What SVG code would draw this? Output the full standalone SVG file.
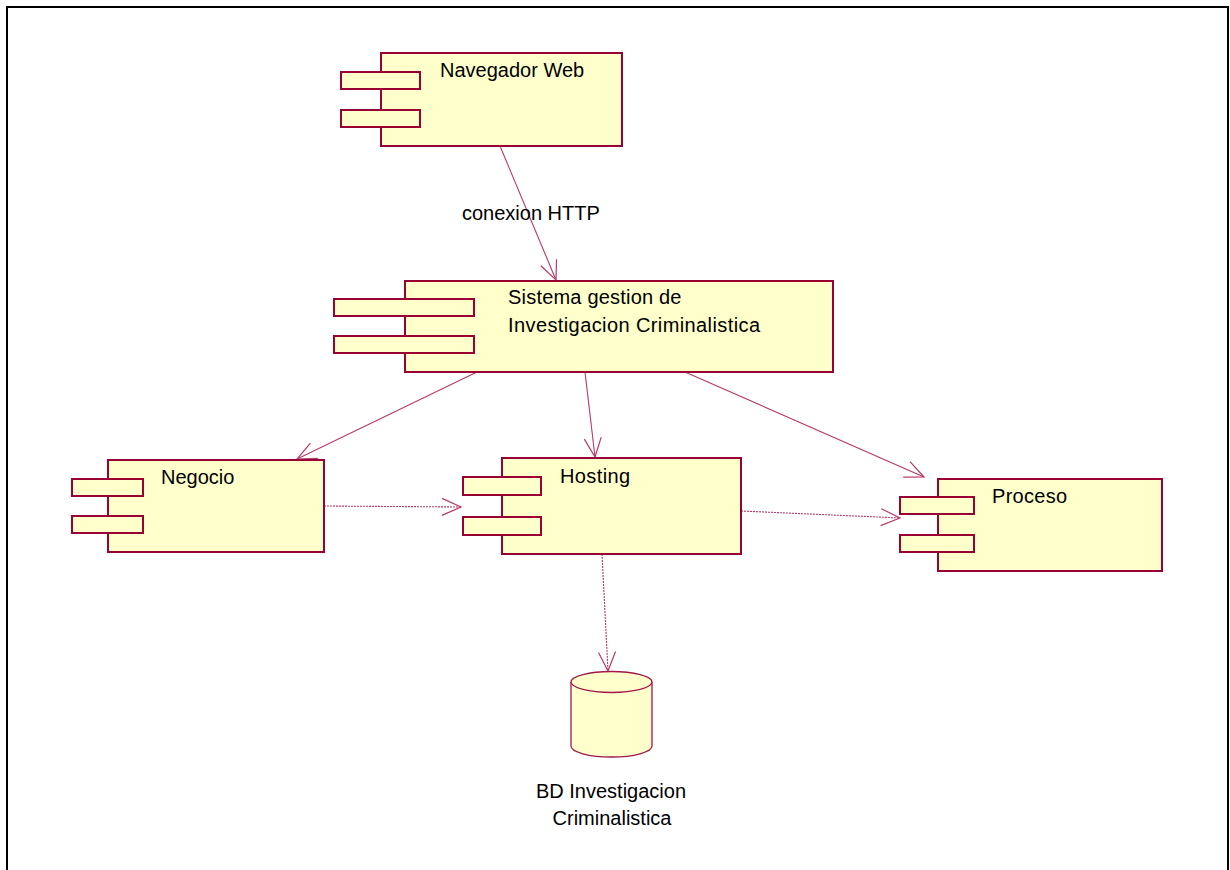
<svg xmlns="http://www.w3.org/2000/svg" width="1230" height="870" viewBox="0 0 1230 870">
<defs>
<style>
.box{fill:#ffffcc;stroke:#990033;stroke-width:2}
.db{fill:#ffffcc;stroke:#a01848;stroke-width:1.3}
.lbl{font-family:"Liberation Sans",Arial,sans-serif;font-size:20px;fill:#000}
.con{fill:none;stroke:#b8386a;stroke-width:1.1}
.dot{stroke-dasharray:2 1}
</style>
<marker id="arr" markerUnits="userSpaceOnUse" markerWidth="24" markerHeight="20" viewBox="-20 -10 24 20" refX="0" refY="0" orient="auto">
<path d="M-19,-8.5 L0,0 L-19,8.5" fill="none" stroke="#b8386a" stroke-width="1.2"/>
</marker>
</defs>
<rect x="0" y="0" width="1230" height="870" fill="#fff"/>
<rect x="7" y="7" width="1221" height="900" fill="none" stroke="#000" stroke-width="2"/>

<g id="connectors">
<line class="con" x1="500" y1="146" x2="556" y2="280" marker-end="url(#arr)"/>
<line class="con" x1="477" y1="372" x2="297" y2="459" marker-end="url(#arr)"/>
<line class="con" x1="585" y1="372" x2="595" y2="457" marker-end="url(#arr)"/>
<line class="con" x1="685" y1="372" x2="924" y2="477" marker-end="url(#arr)"/>
<line class="con dot" x1="324" y1="506" x2="461" y2="507" marker-end="url(#arr)"/>
<line class="con dot" x1="741" y1="511" x2="900" y2="518" marker-end="url(#arr)"/>
<line class="con dot" x1="602" y1="554" x2="608" y2="671" marker-end="url(#arr)"/>
<text class="lbl" x="462" y="220">conexion HTTP</text>
</g>

<g id="navegador">
<rect class="box" x="381" y="53" width="241" height="93"/>
<rect class="box" x="341" y="72" width="79" height="17"/>
<rect class="box" x="341" y="110" width="79" height="17"/>
<text class="lbl" x="440" y="77">Navegador Web</text>
</g>

<g id="sistema">
<rect class="box" x="405" y="281" width="428" height="91"/>
<rect class="box" x="334" y="299" width="140" height="17"/>
<rect class="box" x="334" y="336" width="140" height="17"/>
<text class="lbl" x="508" y="304" letter-spacing="0.2">Sistema gestion de</text>
<text class="lbl" x="508" y="332" letter-spacing="0.4">Investigacion Criminalistica</text>
</g>

<g id="negocio">
<rect class="box" x="108" y="460" width="216" height="92"/>
<rect class="box" x="72" y="479" width="71" height="17"/>
<rect class="box" x="72" y="516" width="71" height="17"/>
<text class="lbl" x="161" y="484">Negocio</text>
</g>

<g id="hosting">
<rect class="box" x="502" y="458" width="239" height="96"/>
<rect class="box" x="463" y="477" width="78" height="18"/>
<rect class="box" x="463" y="517" width="78" height="18"/>
<text class="lbl" x="560" y="483" letter-spacing="0.4">Hosting</text>
</g>

<g id="proceso">
<rect class="box" x="938" y="479" width="224" height="92"/>
<rect class="box" x="900" y="497" width="74" height="17"/>
<rect class="box" x="900" y="535" width="74" height="17"/>
<text class="lbl" x="992" y="503" letter-spacing="0.3">Proceso</text>
</g>

<g id="bd">
<path class="db" d="M571,682 L571,746 A40.5,11 0 0 0 652,746 L652,682"/>
<ellipse class="db" cx="611.5" cy="682" rx="40.5" ry="10.5"/>
<text class="lbl" x="611" y="798" text-anchor="middle">BD Investigacion</text>
<text class="lbl" x="612" y="825" text-anchor="middle">Criminalistica</text>
</g>
</svg>
